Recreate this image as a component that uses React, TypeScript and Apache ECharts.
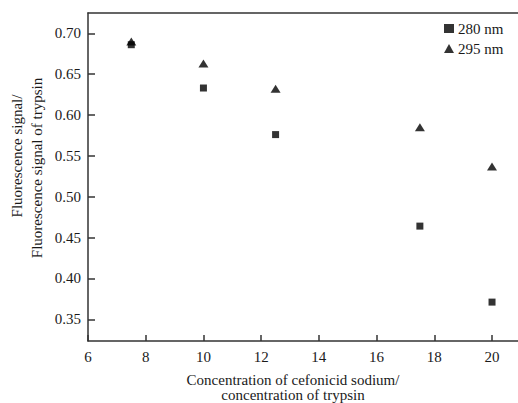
import React, { useEffect, useRef } from "react";
import * as echarts from "echarts";

const xValues = [7.5, 10, 12.5, 17.5, 20];
const series280 = [0.686, 0.633, 0.576, 0.464, 0.371];
const series295 = [0.690, 0.663, 0.632, 0.585, 0.537];
const xTicks = [6, 8, 10, 12, 14, 16, 18, 20];
const yTicks = [0.35, 0.4, 0.45, 0.5, 0.55, 0.6, 0.65, 0.7];
const seriesNames = ["280 nm", "295 nm"];

const FONT = "'Liberation Serif', 'Times New Roman', serif";
const INK = "#1a1a1a";

export default function App() {
  const ref = useRef<HTMLDivElement>(null);
  useEffect(() => {
    if (!ref.current) return;
    const chart = echarts.init(ref.current, null, { renderer: "svg" });
    const axisLine = { show: true, lineStyle: { color: "#333", width: 1.5 } };
    chart.setOption({
      animation: false,
      backgroundColor: "#fff",
      textStyle: { fontFamily: FONT },
      grid: {
        left: 88,
        top: 13,
        width: 430,
        height: 328,
        show: false,
      },
      legend: {
        orient: "vertical",
        left: 439,
        top: 16,
        itemWidth: 10,
        itemHeight: 9,
        itemGap: 5,
        data: seriesNames,
        textStyle: { fontFamily: FONT, fontSize: 15, color: INK, padding: [0, 0, 0, -1] },
      },
      xAxis: [
        {
          type: "value",
          min: 6,
          max: 20.9,
          splitLine: { show: false },
          axisLine,
          axisTick: { show: true, inside: true, length: 6, customValues: xTicks, lineStyle: { color: "#333", width: 1.5 } },
          axisLabel: {
            customValues: xTicks,
            margin: 8,
            fontFamily: FONT,
            fontSize: 15,
            color: INK,
          },
        },
        {
          type: "value",
          position: "top",
          min: 6,
          max: 20.9,
          splitLine: { show: false },
          axisLine,
          axisTick: { show: false },
          axisLabel: { show: false },
        },
      ],
      yAxis: {
        type: "value",
        min: 0.3234,
        max: 0.7248,
        splitLine: { show: false },
        axisLine,
        axisTick: { show: true, inside: true, length: 7, customValues: yTicks, lineStyle: { color: "#333", width: 1.5 } },
        axisLabel: {
          customValues: yTicks,
          margin: 7,
          fontFamily: FONT,
          fontSize: 15,
          color: INK,
          formatter: (v: number) => v.toFixed(2),
        },
      },
      graphic: [
        {
          type: "text",
          x: 293,
          y: 380,
          style: {
            text: "Concentration of cefonicid sodium/",
            fontFamily: FONT,
            fontSize: 15,
            fill: INK,
            align: "center",
            verticalAlign: "middle",
          },
        },
        {
          type: "text",
          x: 293,
          y: 395,
          style: {
            text: "concentration of trypsin",
            fontFamily: FONT,
            fontSize: 15,
            fill: INK,
            align: "center",
            verticalAlign: "middle",
          },
        },
        {
          type: "text",
          x: 17,
          y: 156,
          rotation: Math.PI / 2,
          style: {
            text: "Fluorescence signal/",
            fontFamily: FONT,
            fontSize: 15,
            fill: INK,
            align: "center",
            verticalAlign: "middle",
          },
        },
        {
          type: "text",
          x: 37,
          y: 168,
          rotation: Math.PI / 2,
          style: {
            text: "Fluorescence signal of trypsin",
            fontFamily: FONT,
            fontSize: 15,
            fill: INK,
            align: "center",
            verticalAlign: "middle",
          },
        },
      ],
      series: [
        {
          name: seriesNames[0],
          type: "scatter",
          symbol: "rect",
          symbolSize: 7,
          itemStyle: { color: "#000" },
          data: xValues.map((x, i) => [x, series280[i]]),
        },
        {
          name: seriesNames[1],
          type: "scatter",
          symbol: "triangle",
          symbolSize: [10, 8],
          itemStyle: { color: "#000" },
          data: xValues.map((x, i) => [x, series295[i]]),
        },
      ],
    });
    return () => chart.dispose();
  }, []);
  return (
    <div
      ref={ref}
      style={{ position: "fixed", left: 0, top: 0, width: 518, height: 403, overflow: "hidden" }}
    />
  );
}
